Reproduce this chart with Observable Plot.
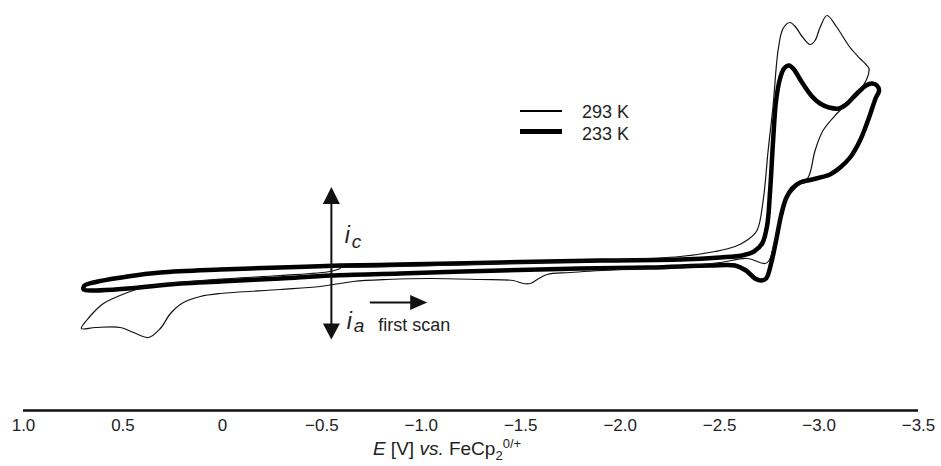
<!DOCTYPE html>
<html>
<head>
<meta charset="utf-8">
<script src="https://cdn.jsdelivr.net/npm/d3@7"></script>
<script src="https://cdn.jsdelivr.net/npm/@observablehq/plot@0.6"></script>
<style>
  body { margin: 0; background: #fff; font-family: "Liberation Sans", Arial, sans-serif; }
  #wrap { position: relative; width: 941px; height: 466px; overflow: hidden; }
  #chart svg { display: block; }
  .leg-line { position: absolute; left: 520px; width: 42px; background: #000; }
  .leg-text { position: absolute; left: 582px; font-size: 18px; line-height: 1; color: #222; }
  #xlabel { position: absolute; top: 437px; left: 0; width: 941px; text-align: center;
            padding-right: 47px; box-sizing: border-box; font-size: 19px; line-height: 1; color: #222; }
  #xlabel sub, #xlabel sup { font-size: 13px; }
</style>
</head>
<body>
<div id="wrap">
  <div id="chart"></div>
  <div class="leg-line" style="top:110px;height:1.5px;"></div>
  <div class="leg-line" style="top:129px;height:5px;"></div>
  <div class="leg-text" id="leg1" style="top:103px;"></div>
  <div class="leg-text" id="leg2" style="top:125px;"></div>
  <div id="xlabel"><i>E</i> [V] <i>vs.</i> FeCp<sub>2</sub><sup>0/+</sup></div>
</div>
<script>
// ---- Data: potential E (V vs FeCp2 0/+) and current i (arbitrary units, cathodic up) ----
const seriesNames = ["293 K", "233 K"];

const E293 = [-0.593,-0.894,-1.397,-1.899,-2.302,-2.477,-2.578,-2.643,-2.688,-2.719,-2.744,-2.769,-2.794,-2.819,-2.854,-2.884,-2.915,-2.955,-2.980,-3.005,-3.040,-3.090,-3.156,-3.206,-3.236,-3.251,-3.241,-3.196,-3.136,-3.090,-3.020,-2.980,-2.945,-2.889,-2.839,-2.804,-2.774,-2.749,-2.729,-2.638,-2.503,-2.302,-2.000,-1.749,-1.633,-1.583,-1.548,-1.513,-1.462,-1.296,-1.045,-0.829,-0.658,-0.492,-0.291,0.010,0.111,0.196,0.261,0.312,0.372,0.447,0.513,0.638,0.709,0.683,0.653,0.598,0.477,0.397,0.211,-0.040,-0.291,-0.543,-0.593];
const I293 = [-0.2,-0.1,0.2,0.5,0.9,1.4,1.9,2.6,3.5,6.5,11.5,16.0,21.5,23.7,24.3,23.8,22.9,22.1,22.5,23.8,25.0,23.8,21.8,20.7,20.1,19.7,18.7,17.3,16.1,15.2,13.5,11.5,8.8,7.9,6.7,4.8,2.2,0.5,0.2,0.7,0.3,-0.1,-0.4,-0.7,-0.9,-1.4,-1.8,-1.8,-1.5,-1.4,-1.3,-1.4,-1.6,-2.1,-2.4,-2.8,-3.1,-3.7,-4.8,-6.3,-7.2,-6.7,-6.2,-6.2,-6.3,-5.5,-4.8,-3.8,-2.7,-2.2,-1.7,-1.3,-1.0,-0.6,-0.3];

const E233 = [-0.593,-0.894,-1.397,-1.899,-2.302,-2.503,-2.613,-2.673,-2.714,-2.739,-2.754,-2.769,-2.784,-2.804,-2.824,-2.849,-2.874,-2.905,-2.965,-3.005,-3.050,-3.101,-3.136,-3.191,-3.236,-3.266,-3.291,-3.302,-3.286,-3.246,-3.206,-3.156,-3.106,-3.055,-2.965,-2.905,-2.864,-2.834,-2.809,-2.784,-2.759,-2.734,-2.709,-2.678,-2.633,-2.578,-2.452,-2.151,-1.799,-1.397,-0.894,-0.543,-0.291,0.010,0.211,0.477,0.638,0.698,0.693,0.648,0.477,0.312,0.010,-0.291,-0.593];
const I233 = [0.0,0.1,0.3,0.5,0.6,0.8,1.0,1.4,2.2,4.0,7.5,12.5,16.5,18.7,19.7,20.0,19.6,18.6,16.9,16.2,15.8,15.7,16.1,17.2,18.0,18.2,18.0,17.5,16.8,14.5,12.5,10.8,9.8,9.1,8.6,8.3,7.7,6.7,5.0,2.5,0.2,-1.3,-1.5,-1.3,-0.5,0.0,0.0,-0.2,-0.3,-0.5,-0.8,-1.0,-1.3,-1.6,-1.8,-2.3,-2.5,-2.4,-2.0,-1.7,-1.1,-0.7,-0.4,-0.2,0.0];

const xTicks = [1.0, 0.5, 0, -0.5, -1.0, -1.5, -2.0, -2.5, -3.0, -3.5];
const xTickLabels = ["1.0", "0.5", "0", "\u22120.5", "\u22121.0", "\u22121.5", "\u22122.0", "\u22122.5", "\u22123.0", "\u22123.5"];

// Annotation anchors (data units)
const arrowV = [{E: -0.548, iTop: 7.0, iBottom: -6.6}];
const arrowH = [{i: -3.7, Estart: -0.744, Ehead: -0.987}];
const labelMain = [{E: -0.615, i: 2.3, t: "i"}, {E: -0.625, i: -6.3, t: "i"}];
const labelSub = [{E: -0.650, i: 1.8, t: "c"}, {E: -0.660, i: -6.6, t: "a"}];
const labelScan = [{E: -0.784, i: -6.5, t: "first scan"}];

const xDomain = [1.0, -3.5];
const yDomain = [-14.5, 26.5];

const data293 = E293.map((e, k) => ({E: e, i: I293[k]}));
const data233 = E233.map((e, k) => ({E: e, i: I233[k]}));

const tri = (pts) => ({draw(ctx) { ctx.moveTo(pts[0][0], pts[0][1]); ctx.lineTo(pts[1][0], pts[1][1]); ctx.lineTo(pts[2][0], pts[2][1]); ctx.closePath(); }});
const triUp = tri([[0, -8.5], [8.5, 8.5], [-8.5, 8.5]]);
const triDown = tri([[0, 8], [8.5, -8], [-8.5, -8]]);
const triRight = tri([[8.5, 0], [-8.5, -7.5], [-8.5, 7.5]]);

const font = "'Liberation Sans', Arial, sans-serif";

const chart = Plot.plot({
  width: 941,
  height: 432,
  marginLeft: 23,
  marginRight: 23,
  marginTop: 0,
  marginBottom: 22,
  style: {fontFamily: font, fontSize: "17px", color: "#222", background: "white", overflow: "visible"},
  x: {domain: xDomain, ticks: xTicks, tickFormat: d => xTickLabels[xTicks.indexOf(d)], tickSize: 0, tickPadding: 8, label: null},
  y: {domain: yDomain, axis: null},
  marks: [
    Plot.ruleY([yDomain[0]], {stroke: "#111", strokeWidth: 2.5}),
    Plot.line(data233, {x: "E", y: "i", stroke: "#000", strokeWidth: 4.5, curve: "catmull-rom", strokeLinejoin: "round"}),
    Plot.line(data293, {x: "E", y: "i", stroke: "#111", strokeWidth: 1.2, curve: "catmull-rom"}),
    // vertical double arrow
    Plot.ruleX(arrowV, {x: "E", y1: "iTop", y2: "iBottom", stroke: "#111", strokeWidth: 2}),
    Plot.dot(arrowV, {x: "E", y: "iTop", symbol: triUp, fill: "#111", stroke: "none"}),
    Plot.dot(arrowV, {x: "E", y: "iBottom", symbol: triDown, fill: "#111", stroke: "none"}),
    // horizontal "first scan" arrow
    Plot.ruleY(arrowH, {y: "i", x1: "Estart", x2: "Ehead", stroke: "#111", strokeWidth: 2}),
    Plot.dot(arrowH, {x: "Ehead", y: "i", symbol: triRight, fill: "#111", stroke: "none"}),
    // labels
    Plot.text(labelMain, {x: "E", y: "i", text: "t", fontSize: 23, fontStyle: "italic", textAnchor: "start", lineAnchor: "bottom", fill: "#222"}),
    Plot.text(labelSub, {x: "E", y: "i", text: "t", fontSize: 19, fontStyle: "italic", textAnchor: "start", lineAnchor: "bottom", fill: "#222"}),
    Plot.text(labelScan, {x: "E", y: "i", text: "t", fontSize: 18, textAnchor: "start", lineAnchor: "bottom", fill: "#222"})
  ]
});
// enlarge the tick labels of the x axis
d3.select(chart).selectAll("text")
  .filter(function() { return xTickLabels.includes(this.textContent); })
  .style("font-size", "17px").attr("font-size", "17px").style("fill", "#222");
d3.select(chart).selectAll("g")
  .filter(function() { return (this.getAttribute("aria-label") || "").startsWith("x-axis"); })
  .attr("font-size", "17px").style("font-size", "17px");
document.getElementById("chart").appendChild(chart);
document.getElementById("leg1").textContent = seriesNames[0];
document.getElementById("leg2").textContent = seriesNames[1];
</script>
</body>
</html>
